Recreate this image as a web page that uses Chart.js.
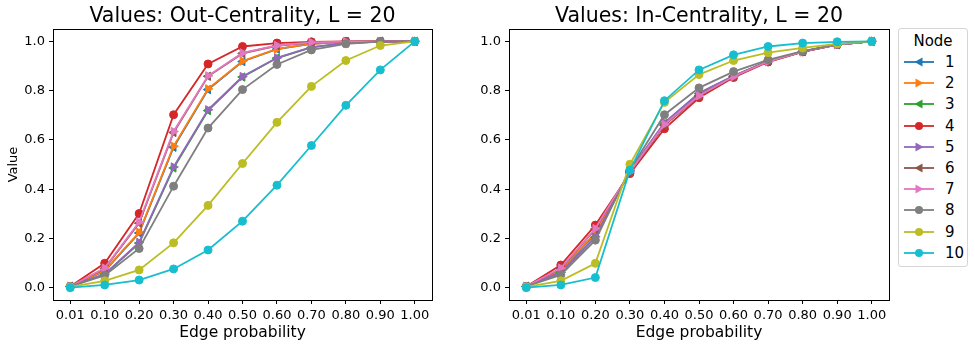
<!DOCTYPE html>
<html>
<head>
<meta charset="utf-8">
<script src="https://cdn.jsdelivr.net/npm/chart.js@4"></script>
<style>
  body { margin: 0; background: #fff; font-family: "DejaVu Sans", sans-serif; }
  #wrap { position: relative; width: 975px; height: 346px; }
  canvas.plot { position: absolute; top: 0; }
  #legend {
    position: absolute; left: 898px; top: 28px; width: 68px; height: 237px;
    border: 1px solid #d6d6d6; border-radius: 3px; background: #fff;
    font-size: 15px; color: #000;
  }
  #legend .ttl { position: absolute; top: 3px; width: 100%; text-align: center; }
  #legend .row { position: absolute; left: 4px; height: 20px; }
  #legend .row canvas { position: absolute; left: 0; top: 4px; }
  #legend .row span { position: absolute; left: 42px; top: 0; line-height: 20px; }
</style>
</head>
<body>
<div id="wrap">
  <canvas id="outChart" class="plot" width="440" height="346" style="left:0"></canvas>
  <canvas id="inChart" class="plot" width="435" height="346" style="left:460px"></canvas>
  <div id="legend"><div class="ttl">Node</div></div>
</div>
<script>
// edge probabilities on the x axis
const probs = ["0.01", "0.10", "0.20", "0.30", "0.40", "0.50", "0.60", "0.70", "0.80", "0.90", "1.00"];
const yTicks = [0, 0.2, 0.4, 0.6, 0.8, 1.0];

const nodes = ["1", "2", "3", "4", "5", "6", "7", "8", "9", "10"];
const colors = ["#1f77b4", "#ff7f0e", "#2ca02c", "#d62728", "#9467bd", "#8c564b", "#e377c2", "#7f7f7f", "#bcbd22", "#17becf"];
// "<" = left triangle, ">" = right triangle, "o" = circle
const markers = ["<", ">", "<", "o", ">", "<", ">", "o", "o", "o"];

// Out-centrality values, one row per node
const out1  = [0.005, 0.068, 0.222, 0.570, 0.804, 0.918, 0.968, 0.990, 0.998, 1.000, 1.000];
const out2  = [0.005, 0.070, 0.225, 0.574, 0.807, 0.920, 0.969, 0.990, 0.998, 1.000, 1.000];
const out3  = [0.005, 0.054, 0.181, 0.486, 0.719, 0.855, 0.932, 0.975, 0.993, 0.999, 1.000];
const out4  = [0.005, 0.099, 0.301, 0.702, 0.908, 0.979, 0.993, 0.998, 1.000, 1.000, 1.000];
const out5  = [0.005, 0.055, 0.184, 0.490, 0.722, 0.857, 0.933, 0.976, 0.993, 0.999, 1.000];
const out6  = [0.005, 0.078, 0.262, 0.630, 0.858, 0.951, 0.982, 0.995, 0.999, 1.000, 1.000];
const out7  = [0.005, 0.080, 0.266, 0.634, 0.860, 0.953, 0.983, 0.996, 0.999, 1.000, 1.000];
const out8  = [0.005, 0.050, 0.159, 0.412, 0.648, 0.804, 0.906, 0.965, 0.990, 0.999, 1.000];
const out9  = [0.003, 0.028, 0.072, 0.182, 0.334, 0.504, 0.671, 0.817, 0.922, 0.983, 1.000];
const out10 = [0.000, 0.011, 0.031, 0.076, 0.153, 0.270, 0.416, 0.577, 0.740, 0.884, 1.000];

// In-centrality values
const in1  = [0.005, 0.070, 0.220, 0.471, 0.660, 0.780, 0.857, 0.919, 0.958, 0.987, 1.000];
const in2  = [0.005, 0.072, 0.223, 0.472, 0.662, 0.782, 0.858, 0.919, 0.958, 0.987, 1.000];
const in3  = [0.005, 0.060, 0.205, 0.474, 0.667, 0.788, 0.859, 0.920, 0.958, 0.987, 1.000];
const in4  = [0.005, 0.092, 0.254, 0.463, 0.645, 0.771, 0.853, 0.916, 0.957, 0.987, 1.000];
const in5  = [0.005, 0.062, 0.207, 0.475, 0.670, 0.790, 0.860, 0.920, 0.958, 0.987, 1.000];
const in6  = [0.005, 0.078, 0.238, 0.468, 0.660, 0.778, 0.856, 0.918, 0.958, 0.987, 1.000];
const in7  = [0.005, 0.080, 0.240, 0.470, 0.663, 0.779, 0.857, 0.918, 0.958, 0.987, 1.000];
const in8  = [0.005, 0.052, 0.193, 0.478, 0.702, 0.811, 0.877, 0.925, 0.960, 0.988, 1.000];
const in9  = [0.003, 0.028, 0.099, 0.501, 0.752, 0.865, 0.922, 0.954, 0.973, 0.990, 1.000];
const in10 = [0.000, 0.011, 0.041, 0.477, 0.759, 0.884, 0.945, 0.979, 0.993, 0.998, 1.000];

const outValues = [out1, out2, out3, out4, out5, out6, out7, out8, out9, out10];
const inValues = [in1, in2, in3, in4, in5, in6, in7, in8, in9, in10];

const FONT = "DejaVu Sans";

function pointStyleOf(m) {
    return m === "o" ? "circle" : "triangle";
}
function rotationOf(m) {
    if (m === "<") return -90;
    if (m === ">") return 90;
    return 0;
}

// matplotlib style full box around the plot area, title centred over it
const frame = {
    id: "frame",
    afterDraw(chart, args, opts) {
        const a = chart.chartArea;
        const ctx = chart.ctx;
        ctx.save();
        ctx.strokeStyle = "#000";
        ctx.lineWidth = 1;
        ctx.strokeRect(Math.round(a.left) + 0.5, Math.round(a.top) + 0.5,
            Math.round(a.right - a.left), Math.round(a.bottom - a.top));
        ctx.fillStyle = "#000";
        ctx.font = "20.5px '" + FONT + "'";
        ctx.textAlign = "center";
        ctx.textBaseline = "alphabetic";
        ctx.fillText(opts.text, (a.left + a.right) / 2, a.top - 7);
        ctx.restore();
    }
};

function makeChart(id, title, values, yWidth, padRight, yTitle) {
    const datasets = values.map((vals, i) => ({
        label: nodes[i],
        data: vals,
        borderColor: colors[i],
        backgroundColor: colors[i],
        borderWidth: 1.8,
        pointStyle: pointStyleOf(markers[i]),
        pointRotation: rotationOf(markers[i]),
        pointRadius: markers[i] === "o" ? 4 : 4.8,
        pointBorderWidth: 1,
        pointBorderColor: colors[i],
        pointBackgroundColor: colors[i],
        tension: 0,
        order: nodes.length - i   // later nodes drawn on top, like matplotlib
    }));

    return new Chart(document.getElementById(id), {
        type: "line",
        data: { labels: probs, datasets: datasets },
        options: {
            responsive: false,
            animation: false,
            devicePixelRatio: 1,
            layout: { padding: { left: 0, right: padRight, top: 29, bottom: 0 } },
            plugins: {
                legend: { display: false },
                tooltip: { enabled: false },
                title: { display: false },
                frame: { text: title }
            },
            scales: {
                x: {
                    type: "category",
                    offset: true,
                    grid: { offset: false, drawOnChartArea: false, tickLength: 4, color: "#000" },
                    border: { display: false },
                    ticks: { color: "#000", padding: 4, maxRotation: 0, autoSkip: false,
                        font: { family: FONT, size: 13 } },
                    title: { display: true, text: "Edge probability", color: "#000",
                        font: { family: FONT, size: 15.5 }, padding: { top: 0, bottom: 4 } },
                    afterFit(scale) { scale.height = 46; }
                },
                y: {
                    min: -0.05,
                    max: 1.05,
                    grid: { drawOnChartArea: false, tickLength: 4, color: "#000" },
                    border: { display: false },
                    ticks: { color: "#000", padding: 4, font: { family: FONT, size: 13 },
                        callback: v => v.toFixed(1) },
                    afterBuildTicks(scale) { scale.ticks = yTicks.map(v => ({ value: v })); },
                    title: { display: !!yTitle, text: yTitle || "", color: "#000",
                        font: { family: FONT, size: 13 }, padding: { top: 6, bottom: 0 } },
                    afterFit(scale) { scale.width = yWidth; }
                }
            }
        },
        plugins: [frame]
    });
}

makeChart("outChart", "Values: Out-Centrality, L = 20", outValues, 53, 8, "Value");
makeChart("inChart", "Values: In-Centrality, L = 20", inValues, 49, 6, null);

// legend: line with marker in the middle, then the node number
const legend = document.getElementById("legend");
nodes.forEach((n, i) => {
    const row = document.createElement("div");
    row.className = "row";
    row.style.top = (23 + i * 21.2) + "px";
    const c = document.createElement("canvas");
    c.width = 32; c.height = 12;
    const ctx = c.getContext("2d");
    ctx.strokeStyle = colors[i];
    ctx.fillStyle = colors[i];
    ctx.lineWidth = 1.8;
    ctx.beginPath();
    ctx.moveTo(1, 6); ctx.lineTo(31, 6);
    ctx.stroke();
    ctx.beginPath();
    if (markers[i] === "o") {
        ctx.arc(16, 6, 4, 0, Math.PI * 2);
    } else if (markers[i] === "<") {
        ctx.moveTo(11.5, 6); ctx.lineTo(19.5, 1.5); ctx.lineTo(19.5, 10.5);
    } else {
        ctx.moveTo(20.5, 6); ctx.lineTo(12.5, 1.5); ctx.lineTo(12.5, 10.5);
    }
    ctx.closePath();
    ctx.fill();
    row.appendChild(c);
    const s = document.createElement("span");
    s.textContent = n;
    row.appendChild(s);
    legend.appendChild(row);
});
</script>
</body>
</html>
